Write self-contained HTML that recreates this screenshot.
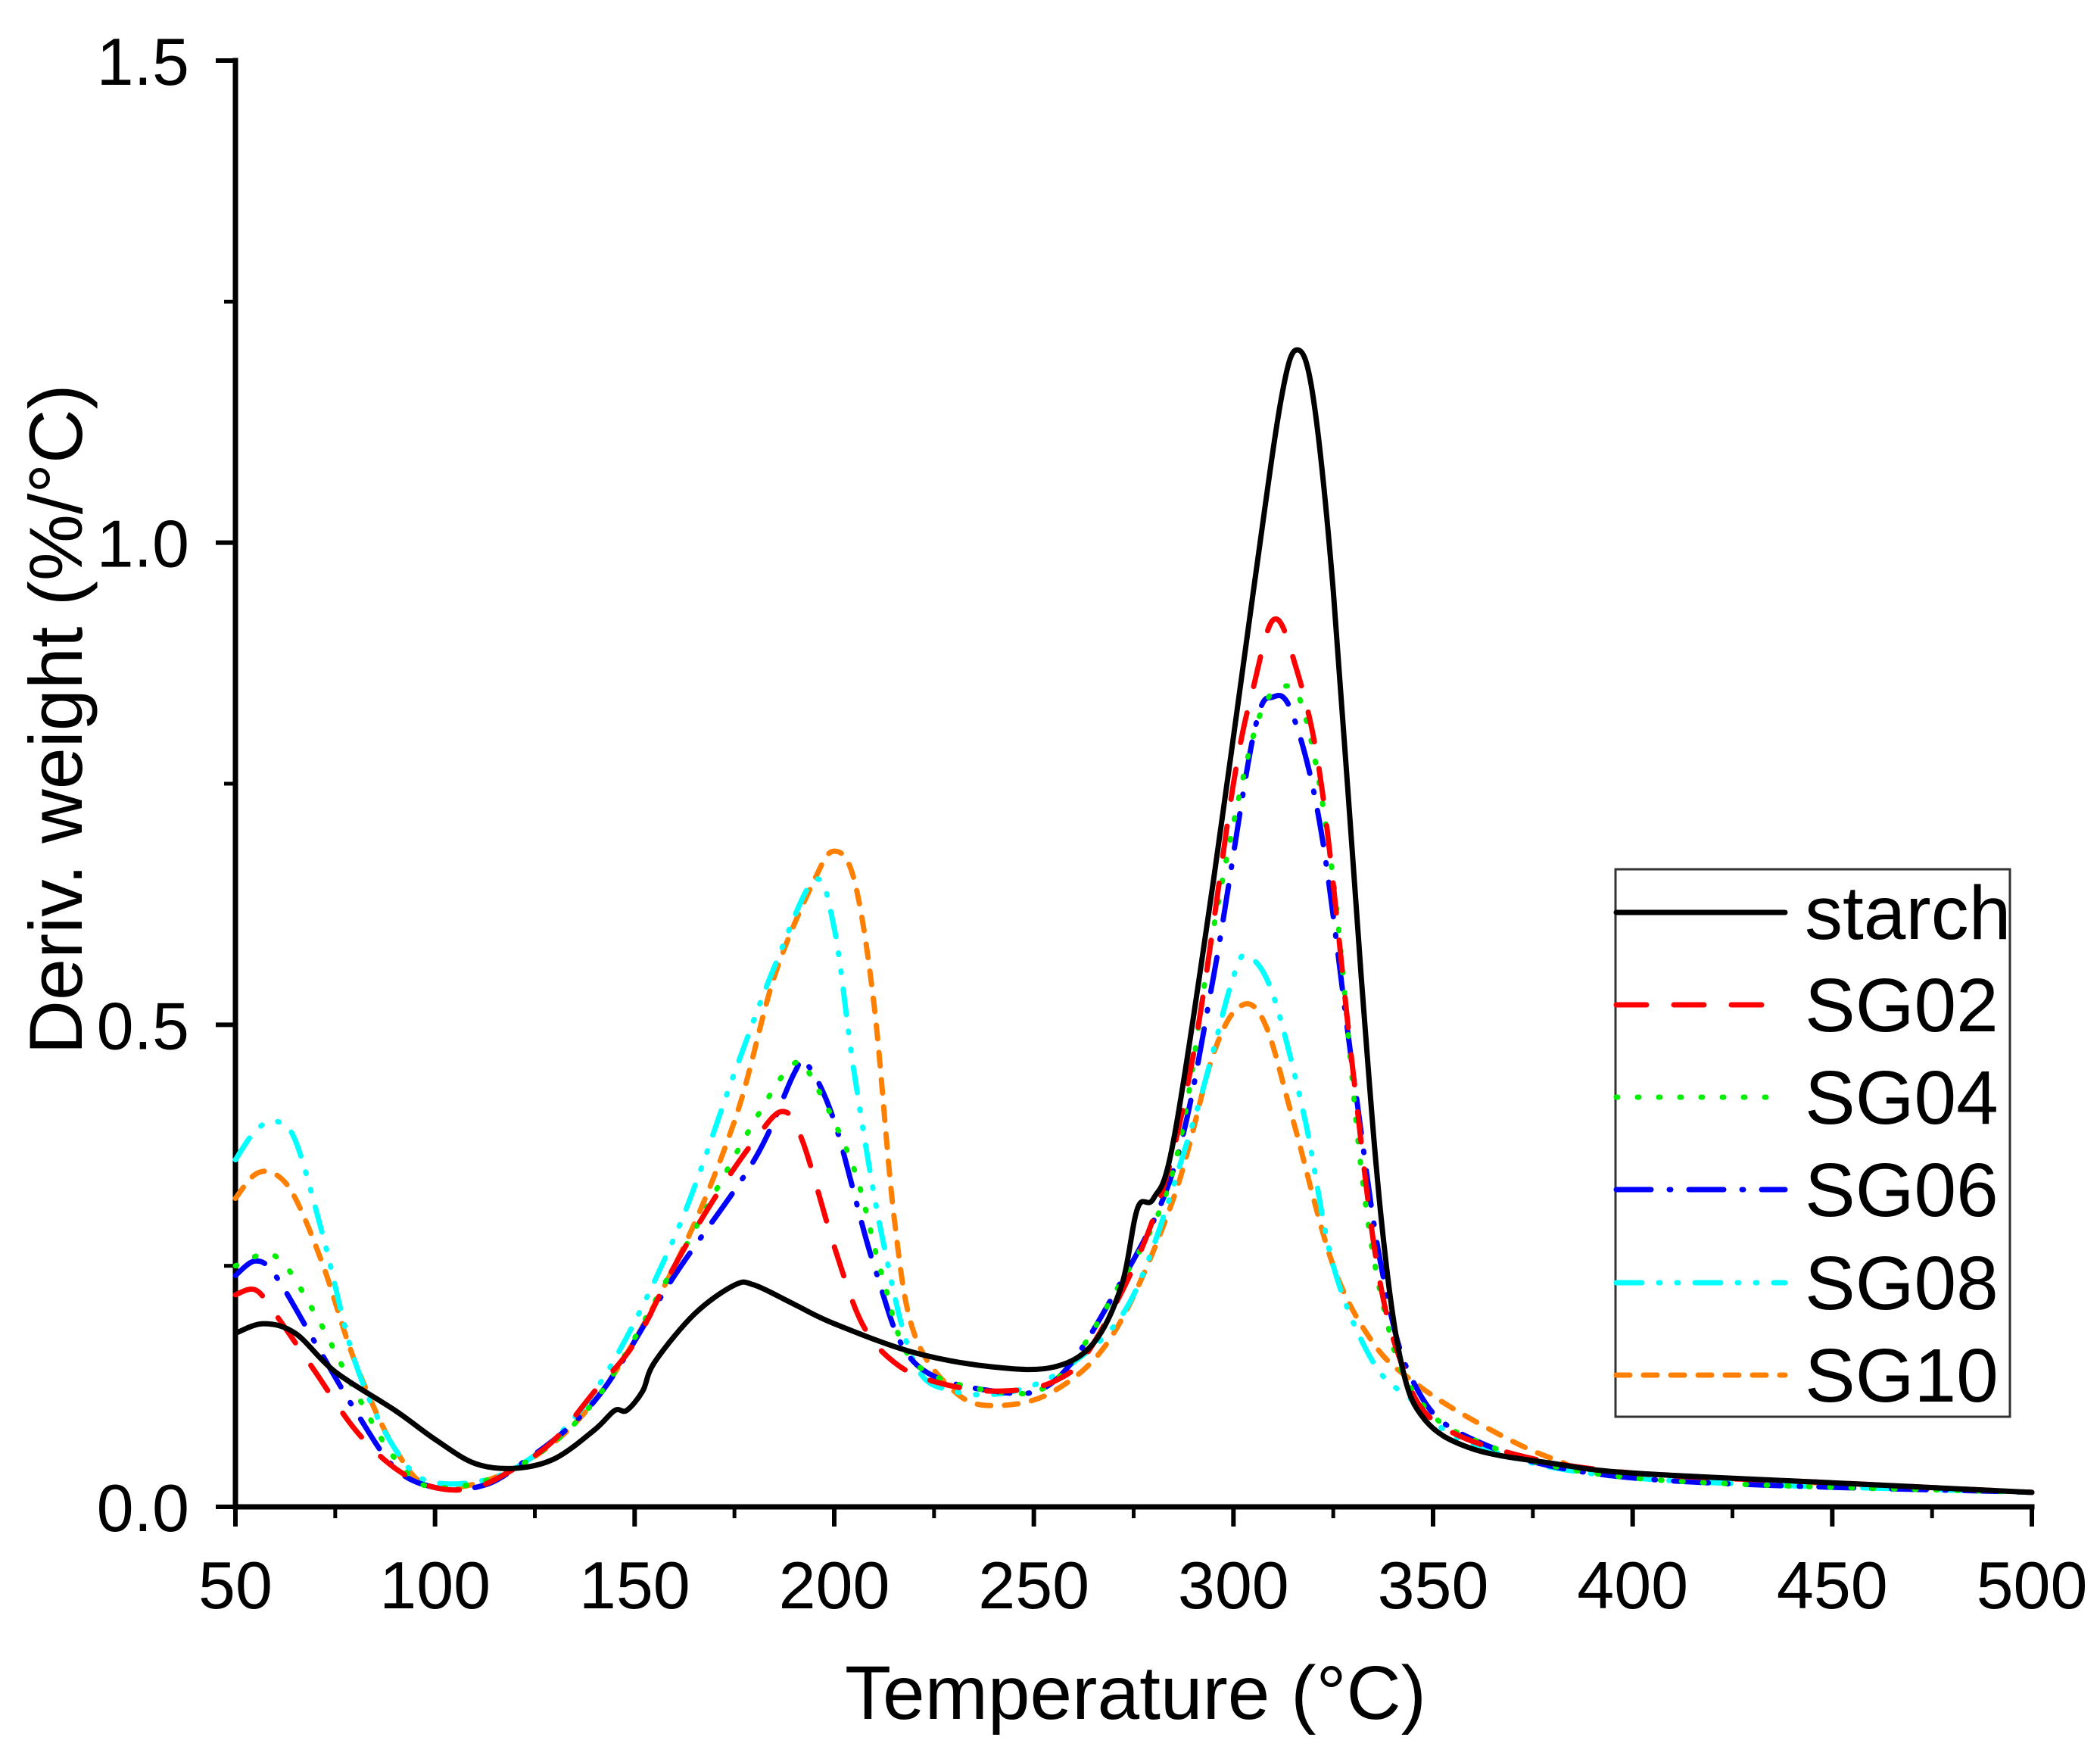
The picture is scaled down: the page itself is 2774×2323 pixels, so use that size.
<!DOCTYPE html>
<html><head><meta charset="utf-8"><style>
html,body{margin:0;padding:0;background:#fff}
svg{display:block;font-family:"Liberation Sans",Arial,sans-serif}
</style></head><body>
<svg id="chart" width="2774" height="2323" viewBox="0 0 2774 2323">
<g id="axes"></g>
<g id="plot"></g>
<g id="legend"></g>
</svg>
<script>
const xTicks=[50,100,150,200,250,300,350,400,450,500];
const yTicks=[0,0.5,1.0,1.5];
const yTickLabels=["0.0","0.5","1.0","1.5"];
const seriesNames=["starch","SG02","SG04","SG06","SG08","SG10"];
const starchX=[50,57,65,75,90,100,110,120,130,140,145,148,152,155,165,175,180,190,200,220,240,255,265,272,276,280,285,295,305,312,316,320,325,332,337,342,348,360,380,400,450,500];
const starchY=[0.18,0.19,0.18,0.14,0.10,0.07,0.045,0.04,0.05,0.08,0.10,0.10,0.12,0.15,0.20,0.23,0.23,0.21,0.19,0.16,0.145,0.145,0.17,0.23,0.31,0.32,0.38,0.65,0.95,1.15,1.20,1.15,0.95,0.55,0.30,0.15,0.09,0.06,0.045,0.035,0.025,0.015];
const sg02X=[50,55,60,70,80,90,100,110,120,130,140,150,160,170,180,187,192,200,207,215,225,240,255,265,280,290,300,305,310,315,322,330,336,342,350,370,400,450,500];
const sg02Y=[0.22,0.225,0.20,0.14,0.08,0.04,0.02,0.02,0.04,0.07,0.12,0.17,0.25,0.32,0.38,0.41,0.38,0.27,0.19,0.15,0.13,0.12,0.13,0.17,0.30,0.47,0.75,0.85,0.92,0.88,0.75,0.45,0.25,0.15,0.09,0.055,0.035,0.025,0.015];
const sg04X=[50,60,70,80,90,100,120,140,160,180,190,195,205,212,220,240,255,270,285,295,305,312,318,325,332,338,345,360,400,500];
const sg04Y=[0.25,0.26,0.20,0.12,0.05,0.02,0.04,0.11,0.25,0.40,0.46,0.44,0.35,0.24,0.15,0.12,0.13,0.22,0.35,0.60,0.80,0.85,0.82,0.65,0.35,0.20,0.12,0.07,0.03,0.015];
const sg06X=[50,55,60,70,80,90,100,110,120,140,160,180,190,193,200,210,220,240,255,270,285,295,305,310,315,322,330,337,345,360,400,500];
const sg06Y=[0.24,0.255,0.24,0.17,0.10,0.04,0.02,0.02,0.04,0.11,0.24,0.36,0.45,0.46,0.40,0.25,0.15,0.12,0.13,0.22,0.35,0.55,0.80,0.84,0.82,0.70,0.45,0.25,0.13,0.07,0.03,0.015];
const sg08X=[50,55,60,65,72,80,90,100,120,140,160,175,185,195,200,205,212,220,230,245,260,275,290,300,304,310,318,325,335,345,360,400,500];
const sg08Y=[0.36,0.39,0.40,0.38,0.28,0.15,0.06,0.025,0.04,0.12,0.28,0.45,0.56,0.65,0.60,0.45,0.28,0.15,0.12,0.12,0.15,0.22,0.40,0.55,0.57,0.53,0.40,0.25,0.15,0.11,0.065,0.03,0.015];
const sg10X=[50,55,60,65,72,80,90,100,120,140,160,175,185,195,200,205,210,215,220,230,240,255,270,285,295,302,308,315,325,335,345,360,380,400,500];
const sg10Y=[0.32,0.345,0.345,0.32,0.25,0.15,0.06,0.02,0.04,0.11,0.25,0.40,0.55,0.65,0.68,0.65,0.52,0.30,0.18,0.12,0.105,0.12,0.18,0.32,0.47,0.52,0.50,0.40,0.25,0.17,0.13,0.09,0.05,0.035,0.015];

const NS="http://www.w3.org/2000/svg";
const X0=311,X1=2684,Y0=1990,Y1=80;
const xs=v=>X0+(v-50)/450*(X1-X0);
const ys=v=>Y0-(v/1.5)*(Y0-Y1);
function mk(tag,attrs,parent){const e=document.createElementNS(NS,tag);for(const k in attrs)e.setAttribute(k,attrs[k]);parent.appendChild(e);return e;}
const axes=document.getElementById('axes');
const plot=document.getElementById('plot');
const legend=document.getElementById('legend');

let e=mk('line',{x1:X0,y1:Y0,x2:X1,y2:Y0,stroke:'#000','stroke-width':7,'stroke-linecap':'square'},axes);


e=mk('line',{x1:X0,y1:Y0,x2:X0,y2:Y1,stroke:'#000','stroke-width':7,'stroke-linecap':'square'},axes);



xTicks.forEach((t,i)=>{
  const x=xs(t);
  let l=mk('line',{x1:x,y1:Y0,x2:x,y2:Y0+26,stroke:'#000','stroke-width':6},axes);
  
  
  if(i<xTicks.length-1){
    const xm=xs(t+25);
    let m=mk('line',{x1:xm,y1:Y0,x2:xm,y2:Y0+15,stroke:'#000','stroke-width':5},axes);
    
    
  }
  let tx=mk('text',{x:x,y:2124,'font-size':88,'text-anchor':'middle',fill:'#000'},axes);
  tx.textContent=String(t);
  
  
});
yTicks.forEach((t,i)=>{
  const y=ys(t);
  let l=mk('line',{x1:X0-26,y1:y,x2:X0,y2:y,stroke:'#000','stroke-width':6},axes);
  
  
  if(i<yTicks.length-1){
    const ym=ys(t+0.25);
    let m=mk('line',{x1:X0-15,y1:ym,x2:X0,y2:ym,stroke:'#000','stroke-width':5},axes);
    
    
  }
  let tx=mk('text',{x:250,y:y+32,'font-size':88,'text-anchor':'end',fill:'#000'},axes);
  tx.textContent=yTickLabels[i];
  
  
});
let xt=mk('text',{x:1500,y:2270,'font-size':100,'text-anchor':'middle',fill:'#000'},axes);
xt.textContent='Temperature (°C)';


let yt=mk('text',{x:0,y:0,'font-size':99,'text-anchor':'middle',fill:'#000',transform:'translate(108,950) rotate(-90)'},axes);
yt.textContent='Deriv. weight (%/°C)';



const styles=[
 {c:'#000000',d:'',cap:'round'},
 {c:'#ff0000',d:'40 36',cap:'round'},
 {c:'#00ee00',d:'2 26',cap:'round'},
 {c:'#0000ff',d:'46 24 2 24',cap:'round'},
 {c:'#00ffff',d:'34 22 2 22 2 22',cap:'round'},
 {c:'#ff8000',d:'18 18',cap:'round'}
];
const allX=[starchX,sg02X,sg04X,sg06X,sg08X,sg10X];
const allY=[starchY,sg02Y,sg04Y,sg06Y,sg08Y,sg10Y];
function smoothPath(px,py){
  const P=px.map((v,i)=>[xs(v),ys(py[i])]);
  let d='M'+P[0][0].toFixed(1)+','+P[0][1].toFixed(1);
  for(let i=0;i<P.length-1;i++){
    const p0=P[Math.max(0,i-1)],p1=P[i],p2=P[i+1],p3=P[Math.min(P.length-1,i+2)];
    const c1=[p1[0]+(p2[0]-p0[0])/6,p1[1]+(p2[1]-p0[1])/6];
    const c2=[p2[0]-(p3[0]-p1[0])/6,p2[1]-(p3[1]-p1[1])/6];
    d+='C'+c1[0].toFixed(1)+','+c1[1].toFixed(1)+' '+c2[0].toFixed(1)+','+c2[1].toFixed(1)+' '+p2[0].toFixed(1)+','+p2[1].toFixed(1);
  }
  return d;
}
const order=[5,4,3,2,1,0];
order.forEach(i=>{
  const s=styles[i];
  const p=mk('path',{d:smoothPath(allX[i],allY[i]),fill:'none',stroke:s.c,'stroke-width':7,'stroke-dasharray':s.d,'stroke-linecap':s.cap,'stroke-linejoin':'round'},plot);
  
  
});

const box=mk('rect',{x:2134,y:1148,width:521,height:723,fill:'#fff',stroke:'#333','stroke-width':3},legend);


const rowsY=[1205,1327,1449,1571,1694,1816];
seriesNames.forEach((n,i)=>{
  const s=styles[i];
  const g=mk('g',{},legend);
  
  
  const l=mk('line',{x1:2135,y1:rowsY[i],x2:2358,y2:rowsY[i],stroke:s.c,'stroke-width':7,'stroke-dasharray':s.d,'stroke-linecap':s.cap},g);
  
  
  const t=mk('text',{x:2384,y:rowsY[i]+35,'font-size':100,fill:'#000'},g);
  t.textContent=n;
  
  
});
</script>
</body></html>
